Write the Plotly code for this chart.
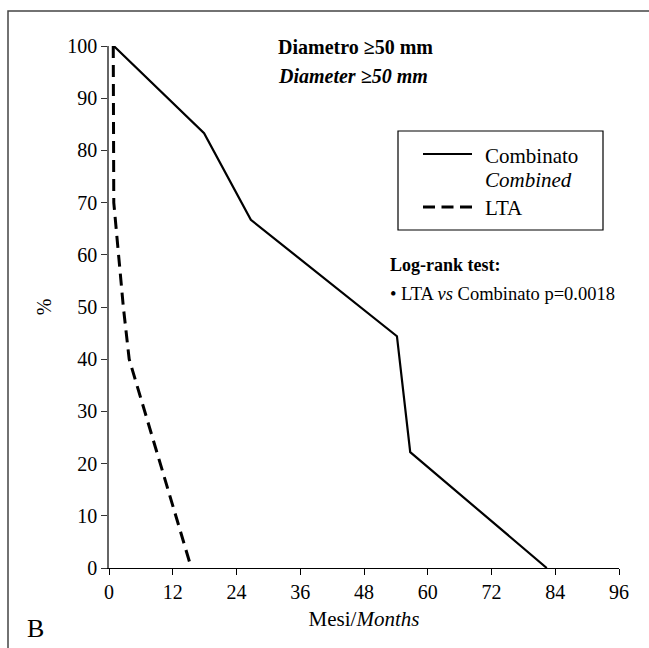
import plotly.graph_objects as go

# Data
combined_months = [0.9, 17.9, 26.7, 54.2, 56.7, 82.4]
combined_pct = [100, 83.3, 66.7, 44.4, 22.2, 0]
lta_months = [0.8, 0.9, 1.8, 2.7, 3.8, 15.5]
lta_pct = [100, 70, 60, 50, 40, 0]
x_ticks = [0, 12, 24, 36, 48, 60, 72, 84, 96]
y_ticks = [0, 10, 20, 30, 40, 50, 60, 70, 80, 90, 100]

W, H = 649, 648
L, R, T, B = 109, 30, 46, 80
PW, PH = W - L - R, H - T - B

def px(x):
    return (x - L) / PW

def py(y):
    return (H - B - y) / PH

FONT = "Liberation Serif"

fig = go.Figure()
fig.add_trace(go.Scatter(x=combined_months, y=combined_pct, mode="lines",
                         line=dict(color="black", width=2.2), name="Combinato",
                         showlegend=False))
fig.add_trace(go.Scatter(x=lta_months, y=lta_pct, mode="lines",
                         line=dict(color="black", width=3, dash="12px,7px"), name="LTA",
                         showlegend=False))

shapes = []
# outer frame
shapes.append(dict(type="rect", xref="paper", yref="paper",
                   x0=px(8), x1=px(700), y0=py(700), y1=py(11),
                   line=dict(color="#444", width=1.5)))
# legend box
shapes.append(dict(type="rect", xref="paper", yref="paper",
                   x0=px(398), x1=px(603), y0=py(230), y1=py(131),
                   line=dict(color="black", width=1.2), fillcolor="white"))
shapes.append(dict(type="line", xref="paper", yref="paper",
                   x0=px(423), x1=px(472), y0=py(154), y1=py(154),
                   line=dict(color="black", width=2.2)))
shapes.append(dict(type="line", xref="paper", yref="paper",
                   x0=px(423), x1=px(472), y0=py(207), y1=py(207),
                   line=dict(color="black", width=3, dash="12px,6.5px")))

ann = []
def text(x, y, s, size, xanchor="left", **kw):
    ann.append(dict(x=px(x), y=py(y), xref="paper", yref="paper", text=s,
                    showarrow=False, xanchor=xanchor, yanchor="middle",
                    font=dict(family=FONT, size=size, color="black"), **kw))

text(276, 47, "<b>Diametro ≥50 mm</b>", 20)
text(276, 76, "<b><i>Diameter ≥50 mm</i></b>", 20)
text(483, 156, "Combinato", 21)
text(483, 180, "<i>Combined</i>", 21)
text(483, 208, "LTA", 21)
text(388, 265, "<b>Log-rank test:</b>", 18)
text(388, 294, "• LTA <i>vs</i> Combinato p=0.0018", 18.5)
text(25, 628, "B", 26)

fig.update_layout(
    width=W, height=H,
    margin=dict(l=L, r=R, t=T, b=B, pad=0),
    paper_bgcolor="white", plot_bgcolor="white",
    font=dict(family=FONT, size=20, color="black"),
    shapes=shapes, annotations=ann,
    showlegend=False,
    xaxis=dict(range=[0, 96], tickvals=x_ticks, ticks="outside", ticklen=6,
               tickcolor="black", showline=True, linecolor="black", linewidth=1.2,
               showgrid=False, zeroline=False,
               title=dict(text="Mesi/<i>Months</i>", standoff=9,
                          font=dict(family=FONT, size=21)),
               tickfont=dict(family=FONT, size=20)),
    yaxis=dict(range=[0, 100], tickvals=y_ticks, ticks="outside", ticklen=6,
               tickcolor="#333", showline=True, linecolor="#666", linewidth=1.5,
               showgrid=False, zeroline=False,
               title=dict(text="%", standoff=10, font=dict(family=FONT, size=20)),
               tickfont=dict(family=FONT, size=20)),
)

fig.write_html("out.html", config={"displayModeBar": False},
               post_script="document.body.style.margin='0';document.body.style.overflow='hidden';")
